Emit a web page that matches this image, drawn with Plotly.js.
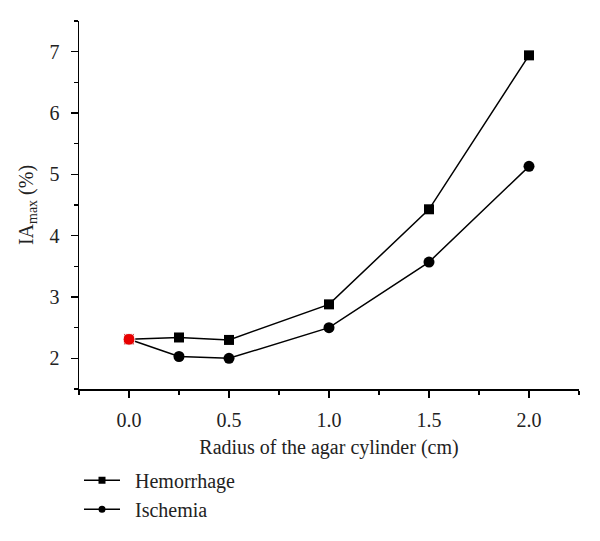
<!DOCTYPE html>
<html>
<head>
<meta charset="utf-8">
<script src="https://cdn.plot.ly/plotly-3.0.1.min.js"></script>
<style>html,body{margin:0;padding:0;background:#fff;}</style>
</head>
<body>
<div id="chart" style="width:600px;height:541px;"></div>
<script>
// Data
const radius = [0.0, 0.25, 0.5, 1.0, 1.5, 2.0];
const hemorrhage = [2.31, 2.34, 2.30, 2.88, 4.43, 6.94];
const ischemia = [2.31, 2.03, 2.00, 2.50, 3.57, 5.13];
const seriesNames = ['Hemorrhage', 'Ischemia'];
const xTickVals = [0.0, 0.5, 1.0, 1.5, 2.0];
const xTickText = ['0.0', '0.5', '1.0', '1.5', '2.0'];
const yTickVals = [2, 3, 4, 5, 6, 7];

const FONT = 'Liberation Serif, Times New Roman, serif';
const FS = 20;
const GAP = '\u2002'; // small gap between legend symbol and label

const traces = [
  {
    x: radius, y: hemorrhage, type: 'scatter', mode: 'lines+markers',
    line: {color: '#000', width: 1.5},
    marker: {symbol: 'square', size: 10, color: '#000'},
    showlegend: false, hoverinfo: 'skip'
  },
  {
    x: radius, y: ischemia, type: 'scatter', mode: 'lines+markers',
    line: {color: '#000', width: 1.5},
    marker: {symbol: 'circle', size: 11, color: '#000'},
    showlegend: false, hoverinfo: 'skip'
  },
  // red starting point (shared by both series)
  {
    x: [radius[0], radius[0]], y: [hemorrhage[0], ischemia[0]], type: 'scatter', mode: 'markers',
    marker: {symbol: ['square', 'circle'], size: [11, 12], color: '#f00'},
    showlegend: false, hoverinfo: 'skip'
  },
  // legend entries
  {
    x: [null], y: [null], type: 'scatter', mode: 'lines+markers', name: GAP + seriesNames[0],
    line: {color: '#000', width: 1.5},
    marker: {symbol: 'square', size: 7, color: '#000'}
  },
  {
    x: [null], y: [null], type: 'scatter', mode: 'lines+markers', name: GAP + seriesNames[1],
    line: {color: '#000', width: 1.5},
    marker: {symbol: 'circle', size: 7, color: '#000'}
  }
];

const layout = {
  width: 600, height: 541,
  margin: {l: 79, r: 21, t: 21, b: 148, pad: 0},
  paper_bgcolor: '#fff', plot_bgcolor: '#fff',
  font: {family: FONT, size: FS, color: '#222'},
  showlegend: true,
  legend: {
    x: 0.0, xanchor: 'left', y: -0.195, yanchor: 'top',
    bgcolor: 'rgba(0,0,0,0)', borderwidth: 0,
    itemwidth: 36,
    font: {family: FONT, size: FS, color: '#222'},
    tracegroupgap: 0
  },
  xaxis: {
    range: [-0.25, 2.25], showgrid: false, zeroline: false,
    showline: true, linecolor: '#000', linewidth: 1.5,
    ticks: 'outside', ticklen: 7, tickwidth: 1.5, tickcolor: '#000',
    tickvals: xTickVals, ticktext: xTickText,
    ticklabelstandoff: 5,
    minor: {dtick: 0.25, tick0: 0, ticks: 'outside', ticklen: 4, tickwidth: 1.5, tickcolor: '#000', showgrid: false},
    tickfont: {family: FONT, size: FS, color: '#222'},
    title: {text: 'Radius of the agar cylinder (cm)', font: {family: FONT, size: FS, color: '#222'}, standoff: 10}
  },
  yaxis: {
    range: [1.5, 7.5], showgrid: false, zeroline: false,
    showline: true, linecolor: '#000', linewidth: 1.5,
    ticks: 'outside', ticklen: 7, tickwidth: 1.5, tickcolor: '#000',
    tickvals: yTickVals,
    ticklabelstandoff: 7,
    minor: {dtick: 0.5, tick0: 0, ticks: 'outside', ticklen: 4, tickwidth: 1.5, tickcolor: '#000', showgrid: false},
    tickfont: {family: FONT, size: FS, color: '#222'},
    title: {text: 'IA<sub>max</sub> (%)', font: {family: FONT, size: FS, color: '#222'}, standoff: 10}
  }
};

Plotly.newPlot('chart', traces, layout, {displayModeBar: false, staticPlot: true});
</script>
</body>
</html>
